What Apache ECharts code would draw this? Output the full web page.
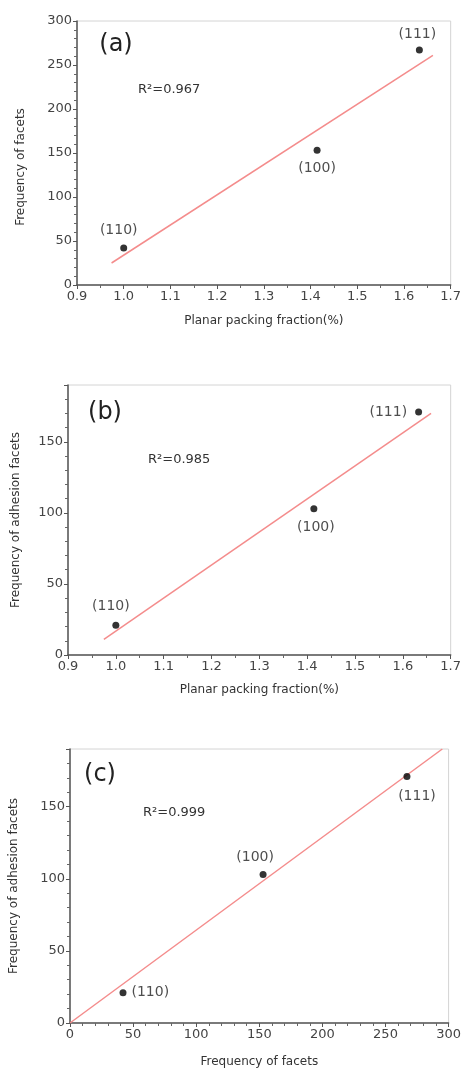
<!DOCTYPE html>
<html>
<head>
<meta charset="utf-8">
<script src="https://cdn.jsdelivr.net/npm/echarts@6/dist/echarts.min.js"></script>
<style>
html,body{margin:0;padding:0;background:#fff;}
#chart{width:464px;height:1072px;}
</style>
</head>
<body>
<div id="chart"></div>
<script>
// ---- data ----
const facetLabels = ['(110)', '(100)', '(111)'];
const packingFraction = [1.0, 1.414, 1.633];
const facetFreq = [42, 153, 267];
const adhesionFreq = [21, 103, 171];

const fitA_x = [0.974, 1.662];
const fitA_y = [25, 261];
const fitB_x = [0.975, 1.659];
const fitB_y = [11, 170];
const fitC_x = [0, 295];
const fitC_y = [0, 190];

const panelLetters = ['(a)', '(b)', '(c)'];
const r2Texts = ['R\u00B2=0.967', 'R\u00B2=0.985', 'R\u00B2=0.999'];
const xNames = ['Planar packing fraction(%)', 'Planar packing fraction(%)', 'Frequency of facets'];
const yNames = ['Frequency of facets', 'Frequency of adhesion facets', 'Frequency of adhesion facets'];

// ---- build ----
const FONT = 'DejaVu Sans';
const TXT = '#333';
const zip = (a, b) => a.map((v, i) => [v, b[i]]);

function pointData(xs, ys, pos) {
  return zip(xs, ys).map((p, i) => ({
    value: p,
    name: facetLabels[i],
    label: { position: pos[i][0], offset: pos[i][1] }
  }));
}

const axisCommon = {
  axisLine: { show: true, onZero: false, lineStyle: { color: '#555', width: 1.5 } },
  axisTick: { show: true, length: 4, lineStyle: { color: '#555' } },
  minorTick: { show: true, length: 3, lineStyle: { color: '#666' } },
  splitLine: { show: false },
  axisLabel: { color: '#444', fontFamily: FONT, fontSize: 13, margin: 5 },
  nameTextStyle: { color: TXT, fontFamily: FONT, fontSize: 12 },
  nameLocation: 'middle'
};
function ax(extra) {
  const o = JSON.parse(JSON.stringify(axisCommon));
  for (const k in extra) {
    if (typeof extra[k] === 'object' && !Array.isArray(extra[k]) && o[k]) Object.assign(o[k], extra[k]);
    else o[k] = extra[k];
  }
  return o;
}

const fmt1 = v => v.toFixed(1);

const option = {
  animation: false,
  backgroundColor: '#fff',
  grid: [
    { left: 77, top: 21, width: 376, height: 264, show: true, borderColor: '#d4d4d4', borderWidth: 1 },
    { left: 68, top: 385, width: 389, height: 270, show: true, borderColor: '#d4d4d4', borderWidth: 1 },
    { left: 63, top: 749, width: 390, height: 274, show: true, borderColor: '#d4d4d4', borderWidth: 1 }
  ],
  xAxis: [
    ax({ gridIndex: 0, type: 'value', min: 0.9, max: 1.7, interval: 0.1, name: xNames[0], nameGap: 30,
         minorTick: { splitNumber: 2 }, axisLabel: { formatter: fmt1 } }),
    ax({ gridIndex: 1, type: 'value', min: 0.9, max: 1.7, interval: 0.1, name: xNames[1], nameGap: 29,
         minorTick: { splitNumber: 2 }, axisLabel: { formatter: fmt1 } }),
    ax({ gridIndex: 2, type: 'value', min: 0, max: 300, interval: 50, name: xNames[2], nameGap: 33,
         minorTick: { splitNumber: 5 } })
  ],
  yAxis: [
    ax({ gridIndex: 0, type: 'value', min: 0, max: 300, interval: 50, name: yNames[0], nameGap: 50,
         minorTick: { splitNumber: 5 }, nameTextStyle: { padding: [0, 28, 0, 0] } }),
    ax({ gridIndex: 1, type: 'value', min: 0, max: 190, interval: 50, name: yNames[1], nameGap: 46,
         minorTick: { splitNumber: 5 }, axisLabel: { showMaxLabel: false } }),
    ax({ gridIndex: 2, type: 'value', min: 0, max: 190, interval: 50, name: yNames[2], nameGap: 50,
         minorTick: { splitNumber: 5 }, axisLabel: { showMaxLabel: false } })
  ],
  graphic: [
    { type: 'text', x: 116, y: 45, style: { text: panelLetters[0], font: '24px "DejaVu Sans"', fill: '#222', align: 'center', verticalAlign: 'middle' } },
    { type: 'text', x: 105, y: 413, style: { text: panelLetters[1], font: '24px "DejaVu Sans"', fill: '#222', align: 'center', verticalAlign: 'middle' } },
    { type: 'text', x: 100, y: 775, style: { text: panelLetters[2], font: '24px "DejaVu Sans"', fill: '#222', align: 'center', verticalAlign: 'middle' } },
    { type: 'text', x: 138, y: 90, style: { text: r2Texts[0], font: '13px "DejaVu Sans"', fill: TXT, align: 'left', verticalAlign: 'middle' } },
    { type: 'text', x: 148, y: 460, style: { text: r2Texts[1], font: '13px "DejaVu Sans"', fill: TXT, align: 'left', verticalAlign: 'middle' } },
    { type: 'text', x: 143, y: 813, style: { text: r2Texts[2], font: '13px "DejaVu Sans"', fill: TXT, align: 'left', verticalAlign: 'middle' } }
  ],
  series: []
};

const fitStyle = { color: '#f48c8c', width: 1.5 };
const fits = [[fitA_x, fitA_y], [fitB_x, fitB_y], [fitC_x, fitC_y]];
fits.forEach((f, i) => {
  option.series.push({
    type: 'line', xAxisIndex: i, yAxisIndex: i, data: zip(f[0], f[1]),
    showSymbol: false, symbol: 'none', lineStyle: fitStyle, z: 2, silent: true
  });
});

const labelPos = [
  [['top', [-5, -2]], ['bottom', [0, 2]], ['top', [-2, 0]]],
  [['top', [-5, -3]], ['bottom', [2, 3]], ['left', [-3, 0]]],
  [['right', [0, 0]], ['top', [-8, -2]], ['bottom', [10, 4]]]
];
const pts = [[packingFraction, facetFreq], [packingFraction, adhesionFreq], [facetFreq, adhesionFreq]];
pts.forEach((p, i) => {
  option.series.push({
    type: 'scatter', xAxisIndex: i, yAxisIndex: i,
    data: pointData(p[0], p[1], labelPos[i]),
    symbol: 'circle', symbolSize: 7, itemStyle: { color: '#000' }, z: 3,
    label: { show: true, formatter: '{b}', color: '#222', fontFamily: FONT, fontSize: 14, distance: 5 }
  });
});

const chart = echarts.init(document.getElementById('chart'), null, { renderer: 'canvas' });
chart.setOption(option);
</script>
</body>
</html>
